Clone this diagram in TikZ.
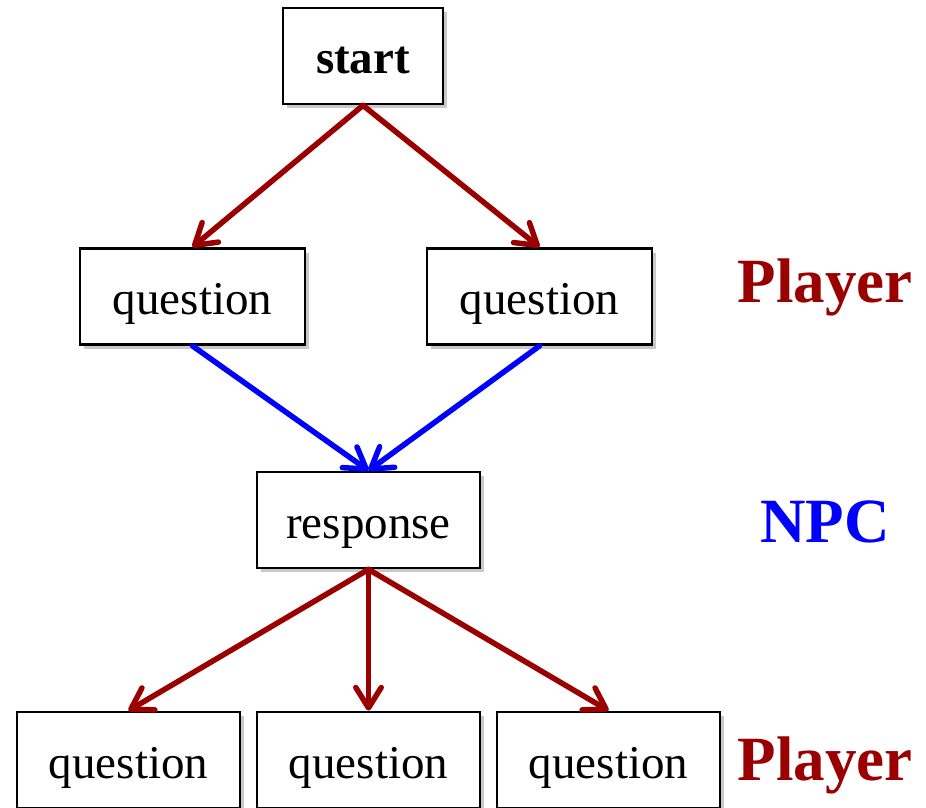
\documentclass[tikz,border=0pt]{standalone}
\usepackage{fontspec}
\setmainfont{Liberation Serif}
\usetikzlibrary{arrows.meta,shadows}
\definecolor{pred}{RGB}{155,0,0}
\definecolor{npcblue}{RGB}{0,0,255}
\tikzset{
  box/.style={draw=black, line width=2.8pt, fill=white, minimum width=223pt, minimum height=96pt, inner sep=0pt,
    font=\fontsize{47}{47}\selectfont, text height=38pt, text depth=2pt,
    drop shadow={shadow xshift=4pt, shadow yshift=-4pt, opacity=0.3, fill=black!70}},
  startbox/.style={box, minimum width=160pt, font=\fontsize{47}{47}\selectfont\bfseries},
  conn/.style={line width=5.5pt, line cap=round, -{Straight Barb[angle=64:24pt, round]}},
  redc/.style={conn, draw=pred},
  bluec/.style={conn, draw=npcblue},
  role/.style={font=\fontsize{63}{63}\selectfont\bfseries}
}
\begin{document}
\begin{tikzpicture}[x=1pt,y=-1pt]
\useasboundingbox (0,0) rectangle (926,808);
\node[startbox] (s) at (363,56) {start};
\node[box, minimum width=225pt] (q1) at (192.5,296.5) {question};
\node[box, minimum width=225pt] (q2) at (539.5,296.5) {question};
\node[box] (r) at (368.5,520) {response};
\node[box] (b1) at (128.5,760) {question};
\node[box] (b2) at (368.5,760) {question};
\node[box] (b3) at (608.5,760) {question};
\node[role, text=pred] (p1) at (825,287) {Player};
\node[role, text=npcblue] (n1) at (825,522) {NPC};
\node[role, text=pred] (p2) at (825,765) {Player};
\draw[redc] (s.south) -- (q1.north);
\draw[redc] (s.south) -- (q2.north);
\draw[bluec] (q1.south) -- (r.north);
\draw[bluec] (q2.south) -- (r.north);
\draw[redc] (r.south) -- (b1.north);
\draw[redc] (r.south) -- (b2.north);
\draw[redc] (r.south) -- (b3.north);
\end{tikzpicture}
\end{document}
